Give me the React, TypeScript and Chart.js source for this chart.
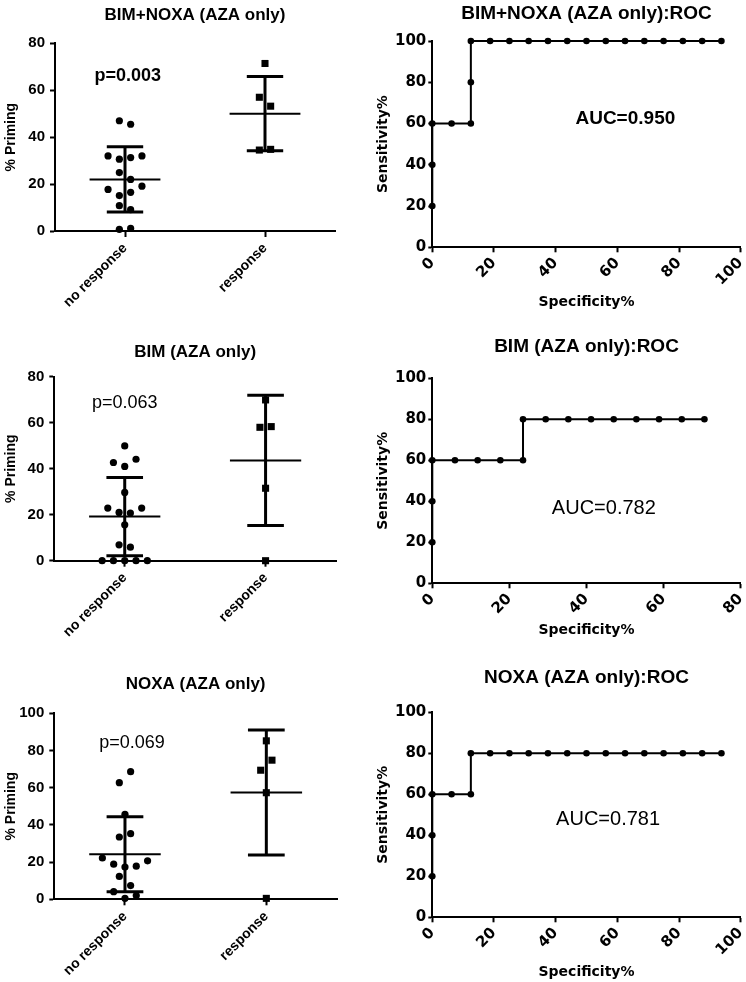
import React, { useEffect, useRef } from 'react';
import { Chart, registerables } from 'chart.js';

Chart.register(...registerables);

// ---------------- Data ----------------
const groupLabels = ['no response', 'response'];

// BIM+NOXA (AZA only): % priming (listed row by row, left to right)
const bimNoxaNoResponse = [47.0, 45.5, 32.0, 30.6, 31.3, 32.0, 24.9, 22.0, 17.7, 15.1, 16.5, 19.1, 10.8, 9.1, 0.7, 1.1];
const bimNoxaResponse = [71.4, 57.0, 53.2, 34.5, 34.8];
const bimNoxaMean = [22.0, 50.0];
const bimNoxaSd = [13.9, 15.8];

// BIM (AZA only)
const bimNoResponse = [49.9, 42.7, 41.0, 44.1, 29.7, 22.9, 21.0, 20.7, 22.9, 15.6, 6.9, 5.9, 0, 0, 0, 0, 0];
const bimResponse = [69.9, 58.0, 58.3, 31.5, 0];
const bimMean = [19.2, 43.6];
const bimSd = [17.0, 28.3];

// NOXA (AZA only)
const noxaNoResponse = [62.7, 68.6, 45.7, 33.5, 35.3, 22.2, 18.9, 17.3, 17.8, 20.7, 12.3, 7.4, 4.1, 0.5, 2.0];
const noxaResponse = [85.2, 69.4, 74.8, 57.3, 0.5];
const noxaMean = [24.2, 57.4];
const noxaSd = [20.2, 33.6];

// ROC curves: specificity% (x) and sensitivity% (y)
const rocBimNoxaSpec = [0, 0, 0, 6.25, 12.5, 12.5, 12.5, 18.75, 25, 31.25, 37.5, 43.75, 50, 56.25, 62.5, 68.75, 75, 81.25, 87.5, 93.75];
const rocBimNoxaSens = [20, 40, 60, 60, 60, 80, 100, 100, 100, 100, 100, 100, 100, 100, 100, 100, 100, 100, 100, 100];

const rocBimSpec = [0, 0, 0, 5.88, 11.76, 17.65, 23.53, 23.53, 29.41, 35.29, 41.18, 47.06, 52.94, 58.82, 64.71, 70.59];
const rocBimSens = [20, 40, 60, 60, 60, 60, 60, 80, 80, 80, 80, 80, 80, 80, 80, 80];

const rocNoxaSpec = [0, 0, 0, 6.25, 12.5, 12.5, 18.75, 25, 31.25, 37.5, 43.75, 50, 56.25, 62.5, 68.75, 75, 81.25, 87.5, 93.75];
const rocNoxaSens = [20, 40, 60, 60, 60, 80, 80, 80, 80, 80, 80, 80, 80, 80, 80, 80, 80, 80, 80];

const pValues = ['p=0.003', 'p=0.063', 'p=0.069'];
const aucValues = ['AUC=0.950', 'AUC=0.782', 'AUC=0.781'];

// ---------------- Styling ----------------
const FONT_A = "'Liberation Sans', Arial, Helvetica, sans-serif";
const FONT_D = "'DejaVu Sans', Verdana, sans-serif";
const BLACK = '#000';
const X_MIN = 0.5;
const X_MAX = 2.5;
const MEAN_HALF = 0.253;
const CAP_HALF = 0.13;
const DOT_STEP_PX = 11.3;
const ROW_TOL_PX = 12;

type Area = { l: number; t: number; r: number; b: number };

function swarm(values: number[], center: number, pxPerY: number, pxPerX: number) {
  const tol = ROW_TOL_PX / pxPerY;
  const step = DOT_STEP_PX / pxPerX;
  const rows: number[][] = [];
  let anchor = NaN;
  values.forEach((v) => {
    if (rows.length === 0 || Math.abs(v - anchor) > tol) {
      rows.push([v]);
      anchor = v;
    } else rows[rows.length - 1].push(v);
  });
  const pts: { x: number; y: number }[] = [];
  rows.forEach((r) => r.forEach((v, i) => pts.push({ x: center + (i - (r.length - 1) / 2) * step, y: v })));
  return pts;
}

const textPlugin = {
  id: 'panelText',
  afterDraw(chart: any, _args: any, opts: any) {
    const { ctx, chartArea, scales } = chart;
    ctx.save();
    ctx.fillStyle = BLACK;
    ctx.textAlign = 'center';
    ctx.textBaseline = 'middle';
    ctx.font = opts.titleFont;
    ctx.fillText(opts.title, (chartArea.left + chartArea.right) / 2, opts.titleY);
    ctx.font = opts.noteFont;
    ctx.fillText(opts.note, scales.x.getPixelForValue(opts.noteX), scales.y.getPixelForValue(opts.noteY));
    ctx.restore();
  },
};

function fixer(kind: 'x' | 'y', size: number) {
  return (s: any) => {
    if (kind === 'x') s.height = size;
    else s.width = size;
    s.paddingLeft = 0;
    s.paddingRight = 0;
    s.paddingTop = 0;
    s.paddingBottom = 0;
  };
}

function gridOpts(len: number) {
  return { display: true, drawOnChartArea: false, drawTicks: true, tickLength: len, tickWidth: 2, tickColor: BLACK };
}

interface DotSpec {
  kind: 'dot';
  left: number; top: number; w: number; h: number; area: Area;
  title: string; titleY: number; yMax: number;
  groupA: number[]; groupB: number[]; mean: number[]; sd: number[];
  note: string; noteBold: boolean; noteX: number; noteY: number;
}
interface RocSpec {
  kind: 'roc';
  left: number; top: number; w: number; h: number; area: Area;
  title: string; titleY: number; xMax: number; xTitleY: number;
  spec: number[]; sens: number[];
  note: string; noteBold: boolean; noteX: number; noteY: number;
}

function dotConfig(p: DotSpec): any {
  const { area, w, h } = p;
  const pxY = (area.b - area.t) / p.yMax;
  const pxX = (area.r - area.l) / (X_MAX - X_MIN);
  const datasets: any[] = [
    { data: swarm(p.groupA, 1, pxY, pxX), pointStyle: 'circle', pointRadius: 3.6, backgroundColor: BLACK, borderWidth: 0, clip: false },
    { data: swarm(p.groupB, 2, pxY, pxX), pointStyle: 'rect', pointRadius: 5, backgroundColor: BLACK, borderWidth: 0, clip: false },
  ];
  [1, 2].forEach((c, i) => {
    const m = p.mean[i];
    const s = p.sd[i];
    const seg = (pts: any[], bw: number) =>
      datasets.push({ data: pts, showLine: true, borderColor: BLACK, borderWidth: bw, pointRadius: 0, clip: false });
    seg([{ x: c - MEAN_HALF, y: m }, { x: c + MEAN_HALF, y: m }], 2);
    seg([{ x: c, y: m - s }, { x: c, y: m + s }], 3);
    seg([{ x: c - CAP_HALF, y: m + s }, { x: c + CAP_HALF, y: m + s }], 3);
    seg([{ x: c - CAP_HALF, y: m - s }, { x: c + CAP_HALF, y: m - s }], 3);
  });
  return {
    type: 'scatter',
    data: { datasets },
    plugins: [textPlugin],
    options: {
      responsive: false,
      animation: false,
      events: [],
      layout: { padding: { left: 0, top: area.t, right: w - area.r, bottom: 0 } },
      plugins: {
        legend: { display: false },
        tooltip: { enabled: false },
        panelText: {
          title: p.title, titleY: p.titleY, titleFont: `bold 17px ${FONT_A}`,
          note: p.note, noteX: p.noteX, noteY: p.noteY,
          noteFont: `${p.noteBold ? 'bold ' : ''}18px ${FONT_A}`,
        },
      },
      scales: {
        x: {
          type: 'linear', min: X_MIN, max: X_MAX,
          afterBuildTicks: (s: any) => { s.ticks = [{ value: 1 }, { value: 2 }]; },
          afterFit: fixer('x', h - area.b),
          ticks: {
            callback: (v: number) => groupLabels[Math.round(v) - 1],
            minRotation: 45, maxRotation: 45, autoSkip: false, padding: 3,
            color: BLACK, font: { family: FONT_A, size: 14, weight: 'bold' },
          },
          grid: gridOpts(6),
          border: { display: true, color: BLACK, width: 2 },
        },
        y: {
          type: 'linear', min: 0, max: p.yMax,
          afterFit: fixer('y', area.l),
          ticks: { stepSize: 20, padding: 5, color: BLACK, font: { family: FONT_A, size: 15, weight: 'bold' } },
          grid: gridOpts(5),
          border: { display: true, color: BLACK, width: 2 },
          title: { display: true, text: '% Priming', color: BLACK, padding: { top: 3, bottom: 0 }, font: { family: FONT_A, size: 14, weight: 'bold' } },
        },
      },
    },
  };
}

function rocConfig(p: RocSpec): any {
  const { area, w, h } = p;
  const data = p.spec.map((x, i) => ({ x, y: p.sens[i] }));
  const titleFontSize = 14;
  const padBottom = h - p.xTitleY - (titleFontSize * 1.2) / 2;
  return {
    type: 'scatter',
    data: {
      datasets: [
        { data, showLine: true, borderColor: BLACK, borderWidth: 2, pointRadius: 3.3, pointBackgroundColor: BLACK, pointBorderWidth: 0, clip: false },
      ],
    },
    plugins: [textPlugin],
    options: {
      responsive: false,
      animation: false,
      events: [],
      layout: { padding: { left: 0, top: area.t, right: w - area.r, bottom: 0 } },
      plugins: {
        legend: { display: false },
        tooltip: { enabled: false },
        panelText: {
          title: p.title, titleY: p.titleY, titleFont: `bold 19px ${FONT_A}`,
          note: p.note, noteX: p.noteX, noteY: p.noteY,
          noteFont: `${p.noteBold ? 'bold 19px' : '20px'} ${FONT_A}`,
        },
      },
      scales: {
        x: {
          type: 'linear', min: 0, max: p.xMax,
          afterFit: fixer('x', h - area.b),
          ticks: {
            stepSize: 20, minRotation: 45, maxRotation: 45, autoSkip: false, padding: 2,
            color: BLACK, font: { family: FONT_D, size: 15, weight: 'bold' },
          },
          grid: gridOpts(5),
          border: { display: true, color: BLACK, width: 2 },
          title: { display: true, text: 'Specificity%', color: BLACK, padding: { top: 0, bottom: padBottom }, font: { family: FONT_D, size: titleFontSize, weight: 'bold' } },
        },
        y: {
          type: 'linear', min: 0, max: 100,
          afterFit: fixer('y', area.l),
          ticks: { stepSize: 20, padding: 2, color: BLACK, font: { family: FONT_D, size: 15, weight: 'bold' } },
          grid: gridOpts(4),
          border: { display: true, color: BLACK, width: 2 },
          title: { display: true, text: 'Sensitivity%', color: BLACK, padding: { top: 1.6, bottom: 0 }, font: { family: FONT_D, size: 14, weight: 'bold' } },
        },
      },
    },
  };
}

const panels: (DotSpec | RocSpec)[] = [
  {
    kind: 'dot', left: 0, top: 0, w: 373, h: 320, area: { l: 55, t: 43.3, r: 335, b: 231 },
    title: 'BIM+NOXA (AZA only)', titleY: 15, yMax: 80,
    groupA: bimNoxaNoResponse, groupB: bimNoxaResponse, mean: bimNoxaMean, sd: bimNoxaSd,
    note: pValues[0], noteBold: true, noteX: 1.02, noteY: 66,
  },
  {
    kind: 'roc', left: 373, top: 0, w: 373, h: 320, area: { l: 59.3, t: 41, r: 367.7, b: 247.3 },
    title: 'BIM+NOXA (AZA only):ROC', titleY: 14, xMax: 100, xTitleY: 302,
    spec: rocBimNoxaSpec, sens: rocBimNoxaSens,
    note: aucValues[0], noteBold: true, noteX: 62.6, noteY: 62.3,
  },
  {
    kind: 'dot', left: 0, top: 320, w: 373, h: 330, area: { l: 54.3, t: 56.7, r: 336, b: 240.7 },
    title: 'BIM (AZA only)', titleY: 32, yMax: 80,
    groupA: bimNoResponse, groupB: bimResponse, mean: bimMean, sd: bimSd,
    note: pValues[1], noteBold: false, noteX: 1.0, noteY: 68.7,
  },
  {
    kind: 'roc', left: 373, top: 320, w: 373, h: 330, area: { l: 59.3, t: 58.3, r: 367.7, b: 263.3 },
    title: 'BIM (AZA only):ROC', titleY: 27, xMax: 80, xTitleY: 310.7,
    spec: rocBimSpec, sens: rocBimSens,
    note: aucValues[1], noteBold: false, noteX: 44.5, noteY: 36.6,
  },
  {
    kind: 'dot', left: 0, top: 650, w: 373, h: 332, area: { l: 54.3, t: 63.3, r: 337, b: 249.3 },
    title: 'NOXA (AZA only)', titleY: 34, yMax: 100,
    groupA: noxaNoResponse, groupB: noxaResponse, mean: noxaMean, sd: noxaSd,
    note: pValues[2], noteBold: false, noteX: 1.05, noteY: 84,
  },
  {
    kind: 'roc', left: 373, top: 650, w: 373, h: 345, area: { l: 59.3, t: 62.3, r: 367.7, b: 267.3 },
    title: 'NOXA (AZA only):ROC', titleY: 28, xMax: 100, xTitleY: 322,
    spec: rocNoxaSpec, sens: rocNoxaSens,
    note: aucValues[2], noteBold: false, noteX: 57.0, noteY: 47.5,
  },
];

function Panel({ spec }: { spec: DotSpec | RocSpec }) {
  const ref = useRef<HTMLCanvasElement>(null);
  useEffect(() => {
    const cfg = spec.kind === 'dot' ? dotConfig(spec) : rocConfig(spec);
    const chart = new Chart(ref.current as HTMLCanvasElement, cfg);
    return () => chart.destroy();
  }, [spec]);
  return (
    <canvas
      ref={ref}
      width={spec.w}
      height={spec.h}
      style={{ position: 'absolute', left: spec.left, top: spec.top, width: spec.w, height: spec.h }}
    />
  );
}

export default function App() {
  return (
    <div style={{ position: 'absolute', left: 0, top: 0, width: 746, height: 982, overflow: 'hidden', background: '#fff' }}>
      {panels.map((p, i) => (
        <Panel key={i} spec={p} />
      ))}
    </div>
  );
}
